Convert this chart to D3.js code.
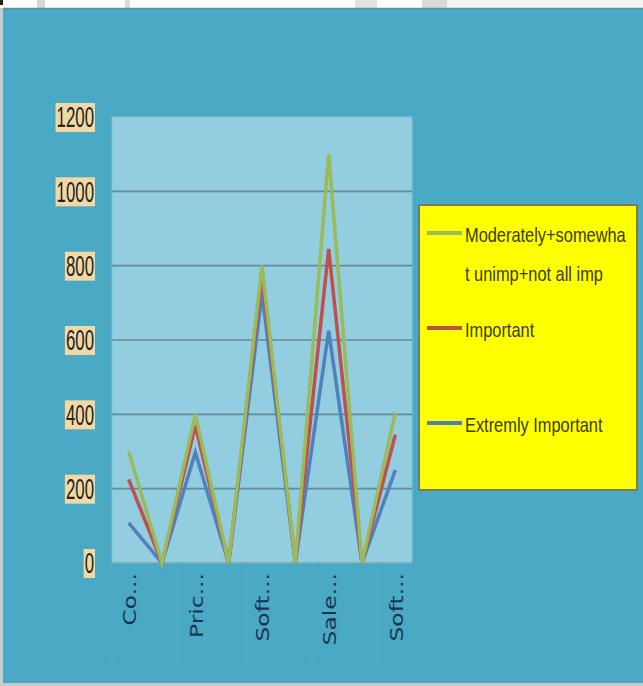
<!DOCTYPE html>
<html lang="en">
<head>
  <meta charset="UTF-8" />
  <title>Importance chart</title>
  <script src="https://d3js.org/d3.v7.min.js"></script>
  <style>
    html, body { margin: 0; padding: 0; background: #fff; }
    svg { display: block; }
  </style>
</head>
<body>
  <svg id="chart"></svg>

  <script>
    // values
    const categories = ["Co...", "", "Pric...", "", "Soft...", "", "Sale...", "", "Soft..."];
    const moderately = [300, 0, 400, 0, 800, 0, 1100, 0, 405];
    const important  = [225, 0, 370, 0, 775, 0, 845, 0, 345];
    const extremely  = [108, 0, 297, 0, 725, 0, 625, 0, 250];
    const yTicks = [0, 200, 400, 600, 800, 1000, 1200];

    const seriesNames = ["Moderately+somewha|t unimp+not all imp", "Important", "Extremly Important"];
    const seriesColors = ["#9bbb59", "#c0504d", "#4f81bd"];

    const width = 643, height = 686;
    const plot = { left: 112, right: 412, top: 117, bottom: 563 };

    const svg = d3.select("#chart")
      .attr("width", width)
      .attr("height", height);

    // squeeze / stretch text horizontally like the scanned picture
    function squeeze(sel, k) {
      sel.each(function() {
        const w = this.getComputedTextLength();
        d3.select(this).attr("textLength", w * k).attr("lengthAdjust", "spacingAndGlyphs");
      });
    }

    // page strip at the top
    svg.append("rect").attr("width", width).attr("height", 9).attr("fill", "#fff");
    const strip = svg.append("g");
    strip.append("rect").attr("x", 0).attr("y", 0).attr("width", 3).attr("height", 5).attr("fill", "#222");
    strip.append("rect").attr("x", 37).attr("y", 0).attr("width", 8).attr("height", 8).attr("fill", "#d6d6d6");
    strip.append("rect").attr("x", 125).attr("y", 0).attr("width", 5).attr("height", 8).attr("fill", "#dcdcdc");
    strip.append("rect").attr("x", 355).attr("y", 0).attr("width", 22).attr("height", 8).attr("fill", "#e2e2e2");
    strip.append("rect").attr("x", 422).attr("y", 0).attr("width", 25).attr("height", 8).attr("fill", "#dadada");
    strip.append("rect").attr("x", 447).attr("y", 0).attr("width", 196).attr("height", 8).attr("fill", "#f3f3f3");

    // left grey edge + blue panel
    svg.append("rect").attr("x", 0).attr("y", 8).attr("width", 4).attr("height", height - 8).attr("fill", "#c9cdd0");
    svg.append("rect").attr("x", 3).attr("y", 8).attr("width", width - 3).attr("height", 675)
      .attr("fill", "#4aa9c4");
    svg.append("line").attr("x1", 3).attr("x2", width).attr("y1", 8.5).attr("y2", 8.5)
      .attr("stroke", "#5f8f9c").attr("stroke-width", 1.5);
    svg.append("rect").attr("x", 0).attr("y", 683).attr("width", width).attr("height", 3).attr("fill", "#c4c9cc");

    const x = d3.scaleBand()
      .domain(d3.range(categories.length))
      .range([plot.left, plot.right]);

    const y = d3.scaleLinear()
      .domain([0, 1200])
      .range([plot.bottom, plot.top]);

    // plot area
    svg.append("rect")
      .attr("x", plot.left).attr("y", plot.top)
      .attr("width", plot.right - plot.left).attr("height", plot.bottom - plot.top)
      .attr("fill", "#92cde0")
      .attr("stroke", "#84c2d6").attr("stroke-width", 1);

    // gridlines
    svg.append("g")
      .selectAll("line")
      .data(yTicks.filter(d => d > 0 && d < 1200))
      .join("line")
      .attr("x1", plot.left).attr("x2", plot.right)
      .attr("y1", d => y(d)).attr("y2", d => y(d))
      .attr("stroke", "#5e8b99").attr("stroke-width", 1.6);

    svg.append("line")
      .attr("x1", plot.left).attr("x2", plot.right)
      .attr("y1", y(0)).attr("y2", y(0))
      .attr("stroke", "#6d9cab").attr("stroke-width", 1.2);

    // category separators below the plot (every second category)
    const sepIdx = d3.range(0, categories.length + 1, 2);
    svg.append("g")
      .selectAll("line")
      .data(sepIdx)
      .join("line")
      .attr("x1", d => d < categories.length ? x(d) : plot.right)
      .attr("x2", d => d < categories.length ? x(d) : plot.right)
      .attr("y1", plot.bottom).attr("y2", 662)
      .attr("stroke", "#58afc7").attr("stroke-width", 1);

    // y tick labels with peach boxes
    const yLab = svg.append("g");
    yTicks.forEach(t => {
      const g = yLab.append("g");
      const txt = g.append("text")
        .attr("x", 94)
        .attr("y", y(t))
        .attr("dy", "0.36em")
        .attr("text-anchor", "end")
        .attr("font-family", "Liberation Sans, Arial, sans-serif")
        .attr("font-size", 29)
        .attr("fill", "#26241f")
        .text(t);
      squeeze(txt, 0.58);
      const b = txt.node().getBBox();
      g.insert("rect", "text")
        .attr("x", b.x - 1).attr("y", y(t) - 14)
        .attr("width", b.width + 2).attr("height", 29)
        .attr("fill", "#f2d8a4");
    });

    // x labels, rotated
    svg.append("g")
      .selectAll("text")
      .data(categories.map((c, i) => ({ c, i })).filter(d => d.c !== ""))
      .join("text")
      .attr("transform", d => `translate(${x(d.i) + x.bandwidth() / 2 + 1},573) rotate(-90)`)
      .attr("dy", "0.36em")
      .attr("text-anchor", "end")
      .attr("font-family", "DejaVu Sans, sans-serif")
      .attr("font-size", 18)
      .attr("fill", "#1b3352")
      .text(d => d.c)
      .call(squeeze, 1.3);

    // lines
    const series = [extremely, important, moderately];
    const colors = [seriesColors[2], seriesColors[1], seriesColors[0]];
    const line = d3.line()
      .x((d, i) => x(i) + x.bandwidth() / 2)
      .y(d => y(d));

    svg.append("g")
      .selectAll("path")
      .data(series)
      .join("path")
      .attr("d", line)
      .attr("fill", "none")
      .attr("stroke", (d, i) => colors[i])
      .attr("stroke-width", 3.5)
      .attr("stroke-linejoin", "miter");

    // legend
    const legend = svg.append("g");
    legend.append("rect")
      .attr("x", 419).attr("y", 205)
      .attr("width", 218).attr("height", 285)
      .attr("fill", "#ffff00")
      .attr("stroke", "#7b7a52").attr("stroke-width", 2);

    const legendY = [233, 328, 423];
    seriesNames.forEach((name, i) => {
      legend.append("line")
        .attr("x1", 427).attr("x2", 462)
        .attr("y1", legendY[i]).attr("y2", legendY[i])
        .attr("stroke", seriesColors[i]).attr("stroke-width", 4);
      name.split("|").forEach((part, j) => {
        legend.append("text")
          .attr("x", 465)
          .attr("y", legendY[i] + 2 + j * 39)
          .attr("dy", "0.35em")
          .attr("font-family", "Liberation Sans, Arial, sans-serif")
          .attr("font-size", 21)
          .attr("fill", "#3b3b0c")
          .text(part)
          .call(squeeze, 0.78);
      });
    });
  </script>
</body>
</html>
